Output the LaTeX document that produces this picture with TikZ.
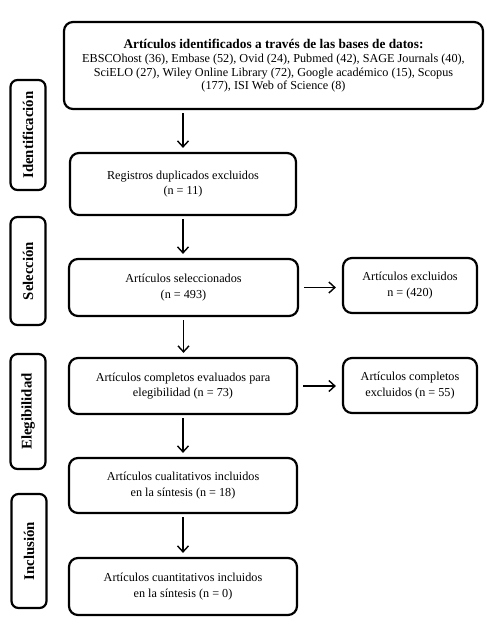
\documentclass[tikz,border=0pt]{standalone}
\usepackage{fontspec}
\setmainfont{Liberation Serif}
\usetikzlibrary{arrows.meta}
\begin{document}
\begin{tikzpicture}[x=1pt,y=-1pt,
  box/.style={draw,line width=2.2pt,rounded corners=9pt,align=center,inner sep=0pt,font=\fontsize{12.2}{15.5}\selectfont},
  side/.style={draw,line width=2.2pt,rounded corners=7pt,align=center,inner sep=0pt,rotate=90,minimum height=35pt,font=\bfseries\fontsize{14.8}{16}\selectfont},
  arr/.style={line width=1.4pt,-{Straight Barb[length=6pt,width=11pt,line width=1.4pt]},shorten <=3pt,shorten >=4pt}]
\useasboundingbox (0,0) rectangle (500,627);
\node[box,minimum width=419pt,minimum height=87pt,font=\fontsize{12.2}{13.5}\selectfont] (top) at (273.5,65.5)
  {{\bfseries\fontsize{13.3}{16}\selectfont Artículos identificados a través de las bases de datos:}\\[1pt]
   EBSCOhost (36), Embase (52), Ovid (24), Pubmed (42), SAGE Journals (40),\\
   SciELO (27), Wiley Online Library (72), Google académico (15), Scopus\\
   (177), ISI Web of Science (8)};
\node[box,minimum width=226pt,minimum height=62pt] (reg) at (183,184)
  {Registros duplicados excluidos\\(n = 11)};
\node[box,minimum width=229pt,minimum height=57pt] (sel) at (183.5,287.5)
  {Artículos seleccionados\\(n = 493)};
\node[box,minimum width=134pt,minimum height=55pt] (exc) at (410,285.5)
  {Artículos excluidos\\n = (420)};
\node[box,minimum width=228pt,minimum height=56pt] (ele) at (183,386)
  {Artículos completos evaluados para\\elegibilidad (n = 73)};
\node[box,minimum width=134pt,minimum height=55pt] (cex) at (410,385.5)
  {Artículos completos\\excluidos (n = 55)};
\node[box,minimum width=228pt,minimum height=55pt] (cual) at (183,485.5)
  {Artículos cualitativos incluidos\\en la síntesis (n = 18)};
\node[box,minimum width=228pt,minimum height=57pt] (cuan) at (183,586.5)
  {Artículos cuantitativos incluidos\\en la síntesis (n = 0)};
\node[side,minimum width=110pt] (s1) at (28,135) {Identificación};
\node[side,minimum width=108pt] (s2) at (28,271) {Selección};
\node[side,minimum width=115pt] (s3) at (28,411.5) {Elegibilidad};
\node[side,minimum width=114pt] (s4) at (29,551) {Inclusión};
\draw[arr] (top.south -| reg.north) -- (reg.north);
\draw[arr] (reg.south) -- (reg.south |- sel.north);
\draw[arr] (sel.south) -- (sel.south |- ele.north);
\draw[arr] (ele.south) -- (ele.south |- cual.north);
\draw[arr] (cual.south) -- (cuan.north);
\draw[arr,shorten <=5pt,shorten >=6pt] (sel.east) -- (sel.east -| exc.west);
\draw[arr,shorten <=5pt,shorten >=6pt] (ele.east) -- (ele.east -| cex.west);
\end{tikzpicture}
\end{document}
